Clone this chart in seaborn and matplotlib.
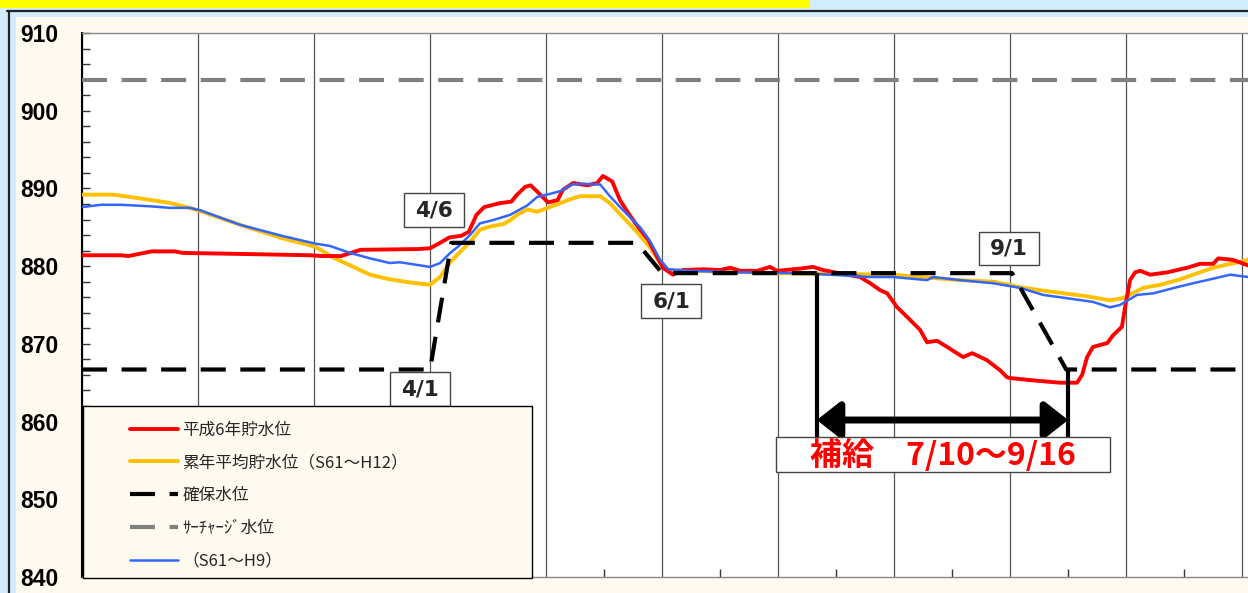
import numpy as np
import pandas as pd
import matplotlib
matplotlib.use("Agg")
from matplotlib import pyplot as plt
from matplotlib.patches import Rectangle
from matplotlib.lines import Line2D
import seaborn as sns

# x = day count from 1/1 (grid every 30 days), y = water level (m)
red_days = [0, 10, 12, 18, 24, 26, 38, 59, 62, 67, 72, 87, 90, 92.6, 95, 98, 100, 102, 104, 108,
            111, 112.5, 114.6, 116, 117.7, 120.5, 123, 124.3, 127, 130.6, 133.2, 134.7, 137.1, 139.1,
            141.7, 144.3, 146.4, 148.7, 150.2, 152.8, 155.4, 160.6, 165, 167.6, 170.2, 174.6, 177.9,
            179.7, 186, 189, 191.6, 196.8, 201.2, 203.8, 206.4, 208.2, 210.8, 214.1, 216.7, 218.5,
            221.1, 223.7, 227.8, 230.2, 234, 237.4, 239.2, 240, 245.9, 252.9, 257.3, 258.6, 259.9,
            261.4, 265.1, 266.6, 268.9, 269.7, 271, 272.3, 273.6, 276.2, 280.6, 285.8, 289.1, 292.5,
            293.8, 297.6, 301.5]
red_level = [881.4, 881.4, 881.3, 881.9, 881.9, 881.7, 881.6, 881.4, 881.3, 881.3, 882.1, 882.2,
             882.3, 883.0, 883.7, 883.9, 884.4, 886.6, 887.6, 888.1, 888.3, 889.2, 890.2, 890.4,
             889.6, 888.2, 888.5, 889.8, 890.7, 890.4, 890.7, 891.6, 890.9, 888.5, 886.5, 884.7,
             883.4, 881.2, 879.8, 878.9, 879.5, 879.6, 879.5, 879.8, 879.4, 879.4, 879.9, 879.4,
             879.7, 879.9, 879.5, 879.0, 878.6, 877.8, 876.9, 876.5, 874.7, 873.1, 871.8, 870.2,
             870.4, 869.6, 868.3, 868.8, 867.9, 866.6, 865.7, 865.6, 865.3, 865.0, 865.0, 866.0,
             868.3, 869.6, 870.1, 871.1, 872.2, 874.7, 878.2, 879.2, 879.4, 878.9, 879.2, 879.8,
             880.3, 880.3, 881.0, 880.8, 880.1]

avg_days = [0, 8, 11, 18, 23, 27, 30.5, 41, 51.7, 60.3, 65, 69.3, 74.5, 79.6, 84.8, 90, 92.6, 95.2,
            97.7, 100.3, 102.9, 105.5, 108.9, 110.7, 112.5, 115.1, 117.7, 121, 126.2, 128.8, 134,
            136.5, 139.9, 143.5, 146.9, 149.5, 151.3, 156.5, 165, 180, 193.4, 209.7, 219.3, 227,
            235.6, 242.6, 247.7, 255.5, 260, 265.8, 269.2, 274.4, 278.8, 283.9, 287.3, 292.5, 301.5]
avg_level = [889.2, 889.2, 889.0, 888.5, 888.1, 887.6, 887.1, 885.3, 883.6, 882.5, 881.1, 880.1,
             878.9, 878.3, 877.9, 877.6, 878.6, 880.5, 881.8, 883.1, 884.7, 885.1, 885.4, 885.9,
             886.6, 887.3, 887.0, 887.6, 888.6, 889.0, 889.0, 888.1, 886.3, 884.4, 882.4, 880.4,
             879.5, 879.4, 879.3, 879.1, 879.0, 878.9, 878.5, 878.2, 878.0, 877.3, 876.9, 876.4,
             876.1, 875.6, 875.9, 877.2, 877.6, 878.3, 878.9, 879.8, 880.8]

h9_days = [0, 5, 10, 17.6, 22.8, 27.9, 30.5, 41, 51.7, 60.3, 64.1, 69.3, 74.5, 79.6, 82.2, 86.1, 90,
           92.6, 95.2, 97.7, 100.3, 102.9, 106.8, 110.7, 115.1, 117.7, 121, 124, 126.5, 130, 134,
           136.5, 139.9, 144.3, 146.9, 149.5, 151.6, 157.2, 170, 185, 193.4, 203.8, 209.7, 218.5,
           220.1, 227, 235.6, 242.6, 248.5, 252.9, 261.4, 265.8, 268.4, 272.8, 277, 283.2, 287.3,
           293.5, 296.9, 301.5]
h9_level = [887.6, 887.9, 887.9, 887.7, 887.5, 887.5, 887.2, 885.3, 883.9, 882.9, 882.6, 881.7,
            881.0, 880.4, 880.5, 880.2, 879.9, 880.4, 881.7, 882.7, 884.0, 885.5, 886.0, 886.6,
            887.8, 888.9, 889.3, 889.7, 890.5, 890.6, 890.5, 889.0, 887.2, 885.0, 883.2, 880.8,
            879.6, 879.4, 879.2, 879.1, 878.9, 878.6, 878.6, 878.2, 878.6, 878.2, 877.8, 877.2,
            876.3, 876.0, 875.4, 874.7, 875.0, 876.3, 876.5, 877.3, 877.8, 878.5, 878.9, 878.6]

keep_days = [0, 90, 95.5, 143.5, 150, 240.5, 254.5, 302]
keep_level = [866.7, 866.7, 883.0, 883.0, 879.1, 879.1, 866.7, 866.7]

surcharge_days = [0, 302]
surcharge_level = [904.0, 904.0]

series_labels = ["平成6年貯水位", "累年平均貯水位（S61～H12）", "確保水位", "ｻｰﾁｬｰｼﾞ水位", "（S61～H9）"]

date_labels = ["4/1", "4/6", "6/1", "9/1"]
supply_start, supply_end = 190, 255
supply_text = "補給　7/10～9/16"

W, H = 1248, 593
CJK = ["Noto Sans CJK JP", "DejaVu Sans"]

sns.set_theme(style="white")
plt.rcParams["font.family"] = CJK

fig = plt.figure(figsize=(W / 100, H / 100), dpi=100)
fig.patch.set_facecolor("#D2EDFF")
# page frame
fig.add_artist(Rectangle((16 / W, 0), 1, 1 - 17 / H, transform=fig.transFigure,
                         fc="#FFFAF0", ec="none", zorder=-2))
fig.add_artist(Rectangle((0, 1 - 8 / H), 810 / W, 8 / H, transform=fig.transFigure,
                         fc="#FFFF00", ec="none", zorder=-2))
fig.add_artist(Line2D([7 / W, 1], [1 - 11 / H, 1 - 11 / H], transform=fig.transFigure,
                      color="#222222", lw=1.6, zorder=-1))
fig.add_artist(Line2D([8.5 / W, 8.5 / W], [0, 1 - 11 / H], transform=fig.transFigure,
                      color="#222222", lw=1.6, zorder=-1))

ax = fig.add_axes([82 / W, 1 - 577 / H, 1166 / W, 544 / H])
ax.set_facecolor("white")

sns.lineplot(x=avg_days, y=avg_level, ax=ax, color="#FFC000", lw=2.8, estimator=None, sort=False, zorder=3)
sns.lineplot(x=red_days, y=red_level, ax=ax, color="#FF0000", lw=2.8, estimator=None, sort=False, zorder=4)
sns.lineplot(x=h9_days, y=h9_level, ax=ax, color="#3366FF", lw=1.8, estimator=None, sort=False, zorder=5)
sns.lineplot(x=keep_days, y=keep_level, ax=ax, color="black", lw=3, estimator=None, sort=False, zorder=6)
sns.lineplot(x=surcharge_days, y=surcharge_level, ax=ax, color="#808080", lw=3, estimator=None, sort=False, zorder=6)
l_avg, l_red, l_h9, l_keep, l_sur = ax.lines[:5]
for ln in (l_keep, l_sur):
    ln.set_dashes([6, 3.5])
    ln.set_dash_capstyle("butt")

ax.set_xlim(0, 301.5)
ax.set_ylim(840, 910)
ax.set_xticks(np.arange(0, 301, 30))
ax.set_xticks(np.arange(15, 301, 30), minor=True)
ax.set_yticks(np.arange(840, 911, 10))
ax.set_yticks(np.arange(840, 911, 2), minor=True)
ax.set_xticklabels([])
ax.xaxis.grid(True, color="#555555", lw=0.9)
ax.yaxis.grid(False)
ax.set_axisbelow(True)
ax.tick_params(axis="y", which="both", direction="in", length=6, width=1, color="#333333", left=True)
ax.tick_params(axis="y", which="major", pad=17, labelsize=16.5, labelcolor="black")
ax.tick_params(axis="x", which="major", length=0)
ax.tick_params(axis="x", which="minor", direction="in", length=6, width=1, color="#333333", bottom=True)
for lab in ax.get_yticklabels():
    lab.set_fontfamily("Liberation Sans")
    lab.set_fontweight("bold")
ax.spines["right"].set_visible(False)
ax.spines["left"].set_color("black")
ax.spines["left"].set_linewidth(1.5)
ax.spines["top"].set_color("#888888")
ax.spines["bottom"].set_color("#888888")
ax.spines["top"].set_linewidth(1)
ax.spines["bottom"].set_linewidth(1)

# date label boxes (left day, bottom level)
box_pos = [(79.6, 862.0), (83.3, 885.0), (144.6, 873.3), (232.0, 880.1)]
for txt, (bx, by) in zip(date_labels, box_pos):
    ax.add_patch(Rectangle((bx, by), 15.5, 4.35, fc="white", ec="#444444", lw=1, zorder=8))
    ax.text(bx + 7.75, by + 2.15, txt, ha="center", va="center", fontsize=15.5, fontweight="bold",
            family="DejaVu Sans", zorder=9)

# supply period
ax.vlines(supply_start, 857.8, 879.1, color="black", lw=3, zorder=7)
ax.vlines(supply_end, 857.8, 866.7, color="black", lw=3, zorder=7)
ax.annotate("", xy=(supply_end, 860.2), xytext=(supply_start, 860.2),
            arrowprops=dict(arrowstyle="<|-|>,head_length=0.7,head_width=0.55", mutation_scale=20,
                            lw=5, color="black", shrinkA=0, shrinkB=0), zorder=7)
ax.add_patch(Rectangle((179.5, 853.5), 86.3, 4.5, fc="white", ec="#444444", lw=1, zorder=8))
ax.text(222.7, 855.6, supply_text, ha="center", va="center", fontsize=23, fontweight="bold",
        color="#FF0000", family=CJK, zorder=9)

# legend
ax.add_patch(Rectangle((1 / 1166, -1 / 544), 449 / 1166, 172 / 544, transform=ax.transAxes,
                       fc="#FFFAF0", ec="black", lw=1, zorder=10, clip_on=False))
handles = [l_red, l_avg, l_keep, l_sur, l_h9]
leg = ax.legend(handles, series_labels, loc="upper left", bbox_to_anchor=(48 / 1166, 0.286),
                frameon=False, borderpad=0, borderaxespad=0, handlelength=2.85,
                handletextpad=0.3, labelspacing=0.95, prop={"family": CJK, "size": 12})
leg.set_zorder(11)

fig.savefig("out.png", dpi=100, facecolor=fig.get_facecolor())
